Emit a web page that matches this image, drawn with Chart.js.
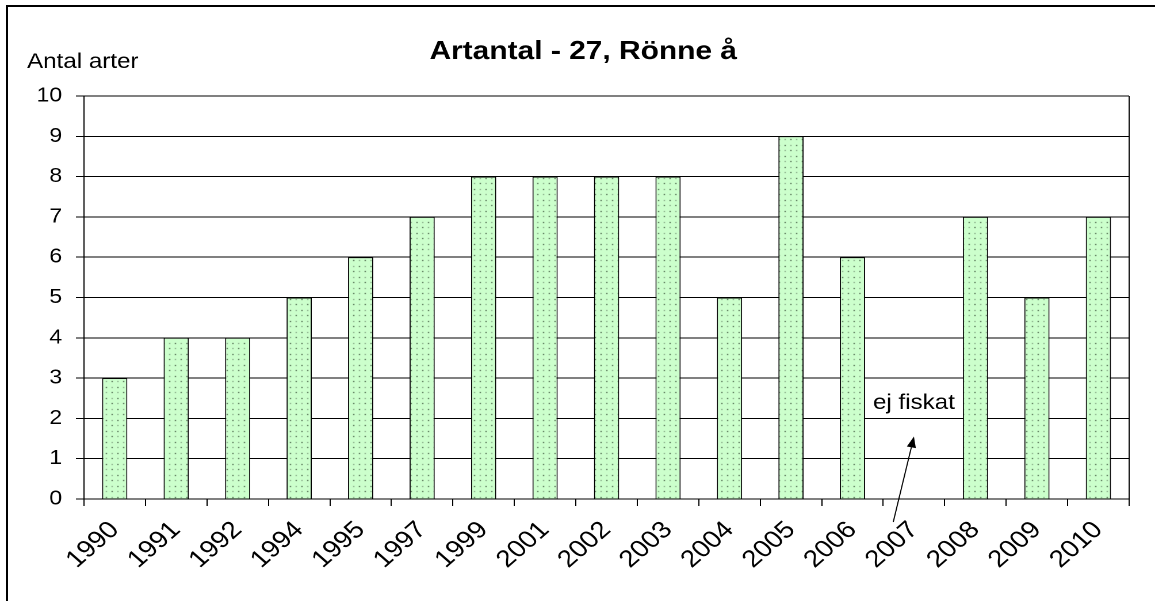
<!DOCTYPE html>
<html>
<head>
<meta charset="utf-8">
<script src="https://cdn.jsdelivr.net/npm/chart.js@4.4.1/dist/chart.umd.min.js"></script>
<style>
  html, body { margin: 0; padding: 0; background: #fff; overflow: hidden; }
  #frame { position: absolute; left: 6px; top: 5px; width: 2000px; height: 2000px; border-left: 2px solid #000; border-top: 2px solid #000; }
  /* the original chart is stretched horizontally, so draw narrow and scale */
  #wrap { position: absolute; left: 0; top: 0; width: 1004px; height: 601px; transform: scaleX(1.1504); transform-origin: 0 0; }
</style>
</head>
<body>
<div id="frame"></div>
<div id="wrap"><canvas id="c"></canvas></div>
<script>
const years = ['1990', '1991', '1992', '1994', '1995', '1997', '1999', '2001', '2002', '2003', '2004', '2005', '2006', '2007', '2008', '2009', '2010'];
const antalArter = [3, 4, 4, 5, 6, 7, 8, 8, 8, 8, 5, 9, 6, null, 7, 5, 7];
const titleText = 'Artantal - 27, Rönne å';
const yTitle = 'Antal arter';
const noteYear = '2007';
const noteText = 'ej fiskat';

const FONT = '"Liberation Sans", Arial, sans-serif';
Chart.defaults.font.family = FONT;
Chart.defaults.color = '#000';

// dotted light green fill like the Excel pattern
function dotPattern() {
  const c = document.createElement('canvas');
  c.width = 10; c.height = 11;
  const g = c.getContext('2d');
  g.fillStyle = '#ccffcc';
  g.fillRect(0, 0, 10, 11);
  g.fillStyle = '#1f2f1f';
  g.fillRect(2, 2, 1, 1);
  g.fillRect(7, 7, 1, 1);
  g.fillStyle = '#6f8a6f';
  g.fillRect(7, 2, 1, 1);
  g.fillRect(2, 7, 1, 1);
  return g.createPattern(c, 'repeat');
}

const extras = {
  id: 'extras',
  afterDraw(chart) {
    const { ctx, chartArea: a, scales: { x, y } } = chart;
    ctx.save();
    ctx.strokeStyle = '#000';
    ctx.lineWidth = 1;
    ctx.beginPath();
    ctx.moveTo(a.right, a.top);
    ctx.lineTo(a.right, a.bottom);
    ctx.stroke();

    ctx.fillStyle = '#000';
    ctx.font = `21px ${FONT}`;
    ctx.textAlign = 'left';
    ctx.textBaseline = 'middle';
    ctx.fillText(yTitle, 23.5, 62);

    const cx = x.getPixelForValue(years.indexOf(noteYear));
    ctx.textAlign = 'center';
    ctx.fillText(noteText, cx, y.getPixelForValue(2.38));

    const tx = cx, ty = y.getPixelForValue(1.55);
    const sx = cx - 18, sy = a.bottom + 23;
    const ang = Math.atan2(ty - sy, tx - sx);
    const hl = 11, hw = 4;
    const bx = tx - hl * Math.cos(ang), by = ty - hl * Math.sin(ang);
    ctx.beginPath();
    ctx.moveTo(sx, sy);
    ctx.lineTo(bx, by);
    ctx.stroke();
    ctx.beginPath();
    ctx.moveTo(tx, ty);
    ctx.lineTo(bx + hw * Math.sin(ang), by - hw * Math.cos(ang));
    ctx.lineTo(bx - hw * Math.sin(ang), by + hw * Math.cos(ang));
    ctx.closePath();
    ctx.fill();
    ctx.restore();
  }
};

new Chart(document.getElementById('c'), {
  type: 'bar',
  data: {
    labels: years,
    datasets: [{
      data: antalArter,
      backgroundColor: dotPattern(),
      borderColor: '#000',
      borderWidth: 1,
      barPercentage: 0.41,
      categoryPercentage: 1
    }]
  },
  options: {
    responsive: true,
    maintainAspectRatio: false,
    animation: false,
    devicePixelRatio: 2,
    layout: { padding: { left: 32.5, right: 22.5, top: 0, bottom: 0 } },
    plugins: {
      legend: { display: false },
      tooltip: { enabled: false },
      title: {
        display: true,
        text: titleText,
        color: '#000',
        font: { size: 26, weight: 'bold', lineHeight: 1.2 },
        padding: { top: 36.4, bottom: 28.4 }
      }
    },
    scales: {
      x: {
        grid: { offset: true, drawOnChartArea: false, drawTicks: true, tickLength: 7, color: '#000' },
        border: { color: '#000', width: 1 },
        ticks: { font: { size: 24 }, color: '#000', minRotation: 45, maxRotation: 45, autoSkip: false, padding: 10 },
        afterFit: s => { s.height = 102; }
      },
      y: {
        min: 0,
        max: 10,
        grid: { color: '#000', lineWidth: 1, tickLength: 7, tickColor: '#000' },
        border: { color: '#000', width: 1 },
        ticks: { stepSize: 1, font: { size: 20 }, color: '#000', padding: 12 },
        afterFit: s => { s.width = 40.5; }
      }
    }
  },
  plugins: [extras]
});
</script>
</body>
</html>
